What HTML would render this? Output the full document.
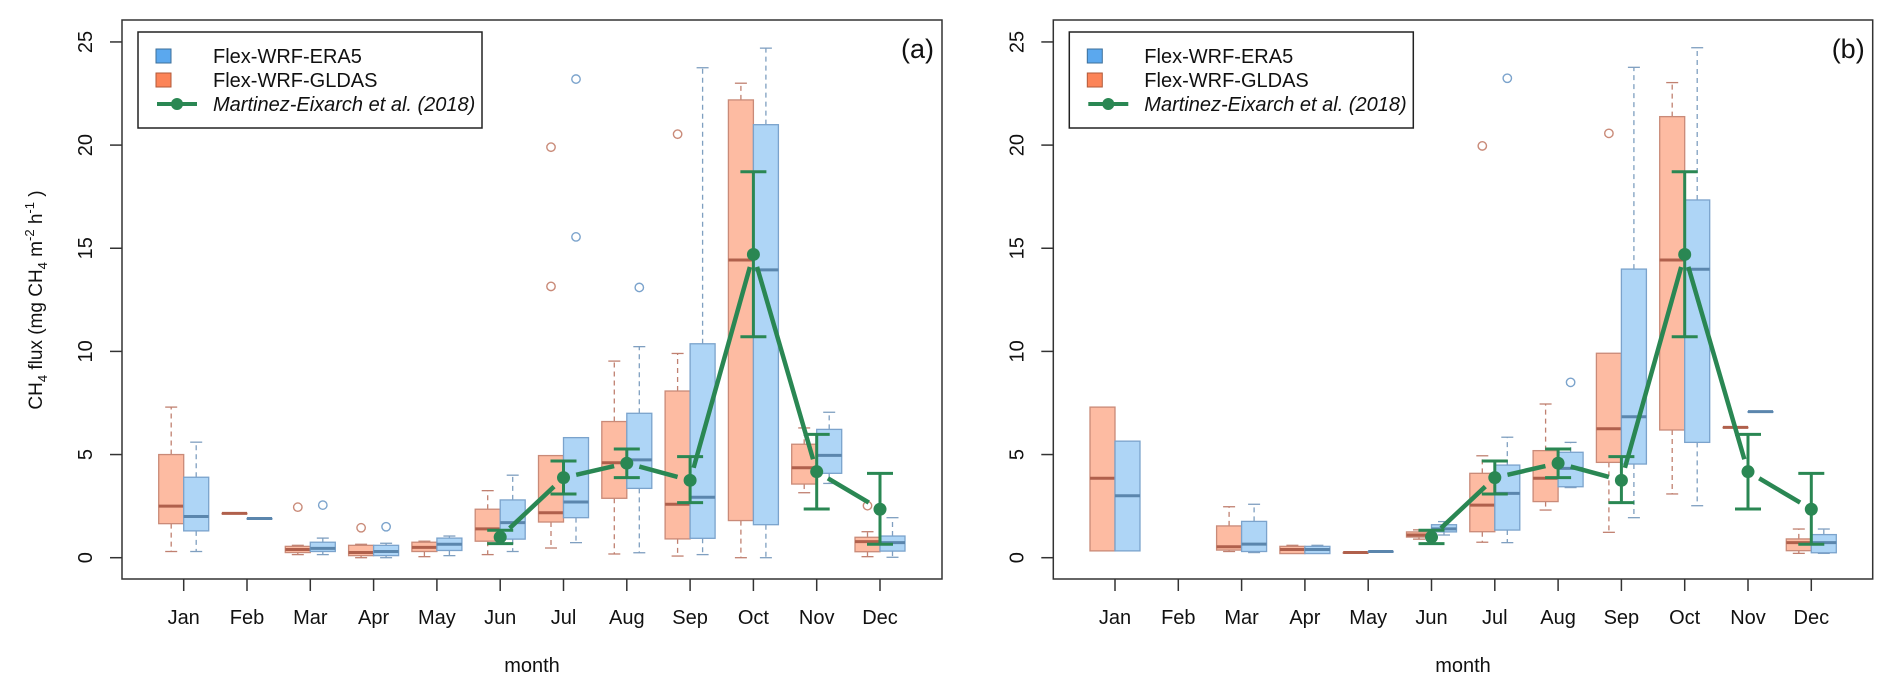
<!DOCTYPE html>
<html><head><meta charset="utf-8"><style>
body{margin:0;background:#fff}
svg{display:block;font-family:"Liberation Sans",Arial,sans-serif}
</style></head><body>
<svg id="chart" width="1892" height="691" viewBox="0 0 1892 691" xmlns="http://www.w3.org/2000/svg"></svg>
<script>
const months=["Jan","Feb","Mar","Apr","May","Jun","Jul","Aug","Sep","Oct","Nov","Dec"];
const yTicks=[0,5,10,15,20,25];
// Panel (a) : [lowWhisker, q1, median, q3, highWhisker]
const aGldas=[[0.3,1.65,2.5,5.0,7.3],[2.15,2.15,2.15,2.15,2.15],[0.15,0.25,0.4,0.55,0.6],[0.0,0.1,0.25,0.6,0.65],[0.05,0.3,0.5,0.75,0.8],[0.15,0.8,1.4,2.35,3.25],[0.47,1.73,2.18,4.95,4.95],[0.18,2.88,4.6,6.6,9.53],[0.08,0.91,2.59,8.08,9.9],[0.0,1.8,14.43,22.19,23.0],[3.15,3.57,4.36,5.5,6.29],[0.05,0.29,0.78,0.99,1.26]];
const aEra5=[[0.3,1.3,2.0,3.9,5.6],[1.9,1.9,1.9,1.9,1.9],[0.15,0.3,0.45,0.75,0.95],[0.0,0.1,0.3,0.6,0.7],[0.1,0.35,0.65,0.95,1.05],[0.3,0.9,1.7,2.8,4.0],[0.73,1.94,2.7,5.82,5.82],[0.24,3.36,4.74,7.0,10.23],[0.15,0.94,2.93,10.37,23.75],[0.0,1.6,13.95,20.99,24.7],[3.6,4.09,4.96,6.22,7.05],[0.02,0.32,0.73,1.05,1.94]];
const aGldasOut=[[],[],[2.45],[1.45],[],[],[13.15,19.9],[],[20.53],[],[],[2.52]];
const aEra5Out=[[],[],[2.55],[1.5],[],[],[15.55,23.2],[13.1],[],[],[],[]];
// Panel (b)
const bGldas=[[0.33,0.33,3.85,7.3,7.3],null,[0.3,0.37,0.53,1.54,2.47],[0.2,0.2,0.4,0.55,0.6],[0.25,0.25,0.25,0.25,0.25],[0.9,1.0,1.1,1.25,1.35],[0.75,1.26,2.55,4.09,4.94],[2.31,2.72,3.85,5.19,7.45],[1.23,4.62,6.25,9.91,9.91],[3.09,6.19,14.43,21.38,23.03],[6.32,6.32,6.32,6.32,6.32],[0.21,0.34,0.73,0.91,1.39]];
const bEra5=[[0.33,0.33,3.0,5.65,5.65],null,[0.25,0.3,0.66,1.76,2.59],[0.2,0.2,0.4,0.55,0.6],[0.3,0.3,0.3,0.3,0.3],[1.1,1.25,1.4,1.6,1.75],[0.73,1.34,3.12,4.49,5.84],[3.4,3.44,4.33,5.11,5.59],[1.94,4.54,6.83,13.99,23.77],[2.52,5.59,13.98,17.34,24.72],[7.08,7.08,7.08,7.08,7.08],[0.21,0.24,0.73,1.12,1.39]];
const bGldasOut=[[],[],[],[],[],[],[19.96],[],[20.57],[],[],[]];
const bEra5Out=[[],[],[],[],[],[],[23.24],[8.5],[],[],[],[]];
// Observations (Martinez-Eixarch et al. 2018), months 6..12
const obsMonths=[6,7,8,9,10,11,12];
const obsMean=[1.0,3.88,4.58,3.75,14.7,4.17,2.35];
const obsLo=[0.68,3.09,3.88,2.67,10.71,2.36,0.65];
const obsHi=[1.33,4.69,5.27,4.9,18.71,5.98,4.09];

const NS="http://www.w3.org/2000/svg";
const svg=document.getElementById('chart');
function mk(tag,attrs,parent){const e=document.createElementNS(NS,tag);for(const k in attrs)e.setAttribute(k,attrs[k]);(parent||svg).appendChild(e);return e;}
const Y0=557.7,PX=20.63,TOP=20,BOT=579;
function yS(v){return Y0-v*PX;}
const GC={fill:"#fdbba2",stroke:"#c98a78",med:"#b0604c",wh:"#c08070"};
const EC={fill:"#aed5f6",stroke:"#7ba3cc",med:"#5b86ad",wh:"#7f9fc0"};
const GREEN="#2a8753";

function panel(L,R,gl,er,glo,ero,tag,showYTitle){
  const xS=i=>L+61.7+i*63.3;
  const g=mk('g',{});
  
  
  const frame=mk('rect',{x:L,y:TOP,width:R-L,height:BOT-TOP,fill:'none',stroke:'#333','stroke-width':1.5},g);
  
  
  // y ticks
  yTicks.forEach(t=>{
    const y=yS(t);
    const tl=mk('line',{x1:L-12,x2:L,y1:y,y2:y,stroke:'#333','stroke-width':1.5},g);
    
    
    const tx=mk('text',{x:0,y:0,transform:`translate(${L-30},${y}) rotate(-90)`,'text-anchor':'middle','font-size':20,fill:'#111'},g);
    tx.textContent=t;
    
    
  });
  // x ticks
  months.forEach((m,i)=>{
    const x=xS(i);
    const tl=mk('line',{x1:x,x2:x,y1:BOT,y2:BOT+12,stroke:'#333','stroke-width':1.5},g);
    
    
    const tx=mk('text',{x:x,y:624,'text-anchor':'middle','font-size':20,fill:'#111'},g);
    tx.textContent=m;
    
    
  });
  const xl=mk('text',{x:(L+R)/2,y:672,'text-anchor':'middle','font-size':20,fill:'#111'},g);
  xl.textContent='month';
  
  
  const pl=mk('text',{x:R-8,y:58,'text-anchor':'end','font-size':27,fill:'#111'},g);
  pl.textContent='('+tag+')';
  
  
  // boxes
  function box(st,outs,x0,c,name){
    if(!st)return;
    const w=25,cx=x0+w/2;
    const bg=mk('g',{},g);
    
    
    const [lo,q1,md,q3,hi]=st;
    if(hi>q3){mk('line',{x1:cx,x2:cx,y1:yS(q3),y2:yS(hi),stroke:c.wh,'stroke-width':1.3,'stroke-dasharray':'5,4'},bg);
      mk('line',{x1:cx-6,x2:cx+6,y1:yS(hi),y2:yS(hi),stroke:c.wh,'stroke-width':1.3},bg);}
    if(lo<q1){mk('line',{x1:cx,x2:cx,y1:yS(q1),y2:yS(lo),stroke:c.wh,'stroke-width':1.3,'stroke-dasharray':'5,4'},bg);
      mk('line',{x1:cx-6,x2:cx+6,y1:yS(lo),y2:yS(lo),stroke:c.wh,'stroke-width':1.3},bg);}
    mk('rect',{x:x0,y:yS(q3),width:w,height:Math.max(0.5,yS(q1)-yS(q3)),fill:c.fill,stroke:c.stroke,'stroke-width':1.3},bg);
    mk('line',{x1:x0,x2:x0+w,y1:yS(md),y2:yS(md),stroke:c.med,'stroke-width':3},bg);
    outs.forEach(o=>{mk('circle',{cx:cx,cy:yS(o),r:4.2,fill:'none',stroke:c.stroke,'stroke-width':1.4},bg);});
  }
  months.forEach((m,i)=>{
    const x=xS(i);
    box(gl[i],glo[i],x-25,GC,'box-gldas-'+m.toLowerCase());
    box(er[i],ero[i],x,EC,'box-era5-'+m.toLowerCase());
  });
  // observations
  const og=mk('g',{},g);
  
  
  const pts=obsMonths.map((m,k)=>[xS(m-1),yS(obsMean[k])]);
  for(let k=0;k<pts.length-1;k++){
    const [x1,y1]=pts[k],[x2,y2]=pts[k+1];
    const d=Math.hypot(x2-x1,y2-y1),gap=13;
    if(d<2*gap)continue;
    const ux=(x2-x1)/d,uy=(y2-y1)/d;
    const s=mk('line',{x1:x1+ux*gap,y1:y1+uy*gap,x2:x2-ux*gap,y2:y2-uy*gap,stroke:GREEN,'stroke-width':4.5},og);
    
    
  }
  obsMonths.forEach((m,k)=>{
    const x=xS(m-1);
    const e=mk('g',{},og);
    
    
    mk('line',{x1:x,x2:x,y1:yS(obsLo[k]),y2:yS(obsHi[k]),stroke:GREEN,'stroke-width':3},e);
    mk('line',{x1:x-13,x2:x+13,y1:yS(obsLo[k]),y2:yS(obsLo[k]),stroke:GREEN,'stroke-width':3},e);
    mk('line',{x1:x-13,x2:x+13,y1:yS(obsHi[k]),y2:yS(obsHi[k]),stroke:GREEN,'stroke-width':3},e);
    const p=mk('circle',{cx:x,cy:yS(obsMean[k]),r:6.5,fill:GREEN},og);
    
    
  });
  // legend
  const lg=mk('g',{transform:`translate(${L},0)`},g);
  
  
  mk('rect',{x:16,y:32,width:344,height:96,fill:'#fff',stroke:'#222','stroke-width':1.5},lg);
  const e1=mk('g',{},lg);
  
  
  mk('rect',{x:34,y:49,width:15,height:14,fill:'#5ba8ee',stroke:'#3d6f99','stroke-width':1},e1);
  const t1=mk('text',{x:91,y:63,'font-size':20,fill:'#111'},e1);t1.textContent='Flex-WRF-ERA5';
  const e2=mk('g',{},lg);
  
  
  mk('rect',{x:34,y:73,width:15,height:14,fill:'#fc8458',stroke:'#b05a3a','stroke-width':1},e2);
  const t2=mk('text',{x:91,y:87,'font-size':20,fill:'#111'},e2);t2.textContent='Flex-WRF-GLDAS';
  const e3=mk('g',{},lg);
  
  
  mk('line',{x1:35,x2:75,y1:104,y2:104,stroke:GREEN,'stroke-width':4},e3);
  mk('circle',{cx:55,cy:104,r:6,fill:GREEN},e3);
  const t3=mk('text',{x:91,y:111,'font-size':20,'font-style':'italic',fill:'#111'},e3);t3.textContent='Martinez-Eixarch et al. (2018)';
  if(showYTitle){
    const yt=mk('text',{transform:'translate(42,300) rotate(-90)','text-anchor':'middle','font-size':19,fill:'#111'},g);
    
    
    yt.innerHTML='CH<tspan font-size="13" dy="5">4</tspan><tspan dy="-5">  flux (mg CH</tspan><tspan font-size="13" dy="5">4</tspan><tspan dy="-5"> m</tspan><tspan font-size="13" dy="-8">-2</tspan><tspan dy="8"> h</tspan><tspan font-size="13" dy="-8">-1</tspan><tspan dy="8"> )</tspan>';
  }
}
panel(122,942,aGldas,aEra5,aGldasOut,aEra5Out,'a',true);
panel(1053.3,1872.7,bGldas,bEra5,bGldasOut,bEra5Out,'b',false);
</script>
</body></html>
